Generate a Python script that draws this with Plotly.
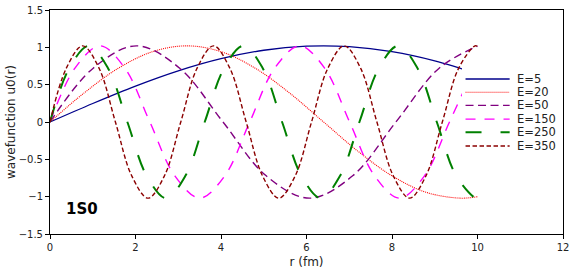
import plotly.graph_objects as go

# ---- data (r in fm, u0(r)) ----
r_e5 = [0, 1, 2, 3, 4, 5, 6, 7, 8, 9, 10]
u_e5 = [0, 0.248, 0.481, 0.685, 0.848, 0.961, 1.015, 1.009, 0.942, 0.819, 0.646]

r_e20 = [0, 0.8, 1.6, 2.4, 3.2, 4.0, 4.8, 5.6, 6.4, 7.2, 8.0, 8.8, 9.6, 10.0]
u_e20 = [0, 0.39, 0.721, 0.942, 1.02, 0.942, 0.721, 0.39, 0, -0.39, -0.721, -0.942, -1.02, -1.0]

r_e50 = [0, 1.011, 2.023, 3.034, 4.046, 5.057, 6.069, 7.080, 8.092, 9.103, 10.0]
u_e50 = [0, 0.721, 1.02, 0.721, 0, -0.721, -1.02, -0.721, 0, 0.721, 1.016]

r_e150 = [0, 0.584, 1.168, 1.752, 2.336, 2.920, 3.504, 4.088, 4.672, 5.256, 5.840,
          6.424, 7.008, 7.592, 8.176, 8.760, 9.344, 9.928, 10.0]
u_e150 = [0, 0.721, 1.02, 0.721, 0, -0.721, -1.02, -0.721, 0, 0.721, 1.02,
          0.721, 0, -0.721, -1.02, -0.721, 0, 0.721, 0.787]

r_e250 = [0, 0.452, 0.905, 1.357, 1.810, 2.262, 2.714, 3.167, 3.619, 4.072, 4.524, 4.976,
          5.429, 5.881, 6.334, 6.786, 7.238, 7.691, 8.143, 8.596, 9.048, 9.500, 9.953, 10.0]
u_e250 = [0, 0.721, 1.02, 0.721, 0, -0.721, -1.02, -0.721, 0, 0.721, 1.02, 0.721,
          0, -0.721, -1.02, -0.721, 0, 0.721, 1.02, 0.721, 0, -0.721, -1.02, -1.017]

r_e350 = [0, 0.382, 0.765, 1.147, 1.530, 1.912, 2.294, 2.677, 3.059, 3.441, 3.824, 4.206,
          4.589, 4.971, 5.353, 5.736, 6.118, 6.500, 6.883, 7.265, 7.647, 8.030, 8.412,
          8.794, 9.177, 9.559, 9.941, 10.0]
u_e350 = [0, 0.721, 1.02, 0.721, 0, -0.721, -1.02, -0.721, 0, 0.721, 1.02, 0.721,
          0, -0.721, -1.02, -0.721, 0, 0.721, 1.02, 0.721, 0, -0.721, -1.02,
          -0.721, 0, 0.721, 1.02, 1.013]

labels = ["E=5", "E=20", "E=50", "E=150", "E=250", "E=350"]
x_ticks = [0, 2, 4, 6, 8, 10, 12]
y_ticks = [-1.5, -1, -0.5, 0, 0.5, 1, 1.5]

series = [
    (r_e5, u_e5, "#00008B", 1.3, "solid"),
    (r_e20, u_e20, "#FF0000", 1.1, "1px,1px"),
    (r_e50, u_e50, "#800080", 1.4, "8px,4.5px"),
    (r_e150, u_e150, "#FF00FF", 1.4, "10px,9px"),
    (r_e250, u_e250, "#008000", 2.0, "16px,19px"),
    (r_e350, u_e350, "#8B0000", 1.4, "4.5px,2.5px"),
]

fig = go.Figure()
for (rx, uy, col, w, dash), lab in zip(series, labels):
    fig.add_trace(go.Scatter(x=rx, y=uy, mode="lines", name=lab, showlegend=False,
                             line=dict(color=col, width=w, dash=dash, shape="spline", smoothing=1.0)))

# legend drawn as a compact box (matplotlib-like spacing)
shapes = [dict(type="rect", xref="paper", yref="paper", x0=0.803, x1=0.998, y0=0.357, y1=0.746,
               fillcolor="white", line=dict(width=0), layer="above")]
row_y = [0.692, 0.633, 0.574, 0.513, 0.454, 0.393]
annotations = []
for (rx, uy, col, w, dash), lab, yy in zip(series, labels, row_y):
    shapes.append(dict(type="line", xref="paper", yref="paper", x0=0.810, x1=0.896, y0=yy, y1=yy,
                       line=dict(color=col, width=w, dash=dash), layer="above"))
    annotations.append(dict(xref="paper", yref="paper", x=0.906, y=yy, text=lab, showarrow=False,
                            xanchor="left", yanchor="middle",
                            font=dict(family="DejaVu Sans", size=11.5, color="#222")))

annotations.append(dict(x=0.33, y=-1.17, text="<b>1S0</b>", showarrow=False,
                        xanchor="left", yanchor="middle",
                        font=dict(family="DejaVu Sans", size=15, color="black")))

axis_common = dict(showgrid=False, zeroline=False, showline=True, linecolor="black",
                   linewidth=1, mirror=True, ticks="outside", ticklen=4, tickwidth=1,
                   tickcolor="black", automargin=False,
                   tickfont=dict(family="DejaVu Sans", size=10, color="#222"))

fig.update_xaxes(range=[0, 12], tickvals=x_ticks, title=dict(text="r (fm)", standoff=5,
                 font=dict(family="DejaVu Sans", size=12, color="#222")), **axis_common)
fig.update_yaxes(range=[-1.5, 1.5], tickvals=y_ticks, title=dict(text="wavefunction u0(r)", standoff=0,
                 font=dict(family="DejaVu Sans", size=12, color="#222")), **axis_common)

fig.update_layout(
    width=574, height=274,
    margin=dict(l=50, r=11, t=10, b=40),
    plot_bgcolor="white", paper_bgcolor="white",
    font=dict(family="DejaVu Sans"),
    shapes=shapes, annotations=annotations,
    showlegend=False,
)

fig.write_html("out.html", config={"displayModeBar": False},
               post_script="document.body.style.margin='0';document.body.style.padding='0';")
